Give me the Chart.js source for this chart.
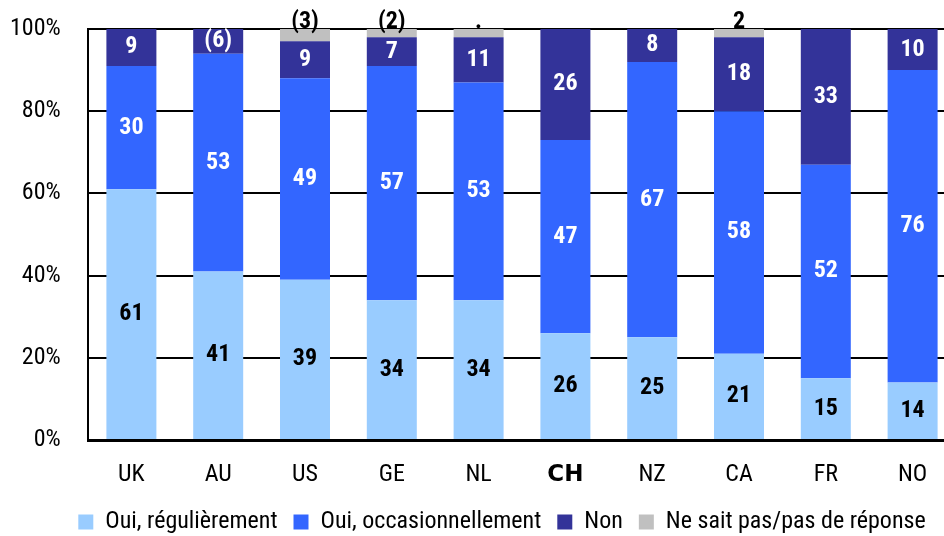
<!DOCTYPE html>
<html>
<head>
<meta charset="utf-8">
<style>
  html, body { margin: 0; padding: 0; background: #fff; overflow: hidden; }
  #wrap { width: 956px; height: 536px; position: relative; }
</style>
<script src="https://cdn.jsdelivr.net/npm/chart.js@4"></script>
</head>
<body>
<div id="wrap"><canvas id="chart"></canvas></div>
<script>
var categories = ['UK', 'AU', 'US', 'GE', 'NL', 'CH', 'NZ', 'CA', 'FR', 'NO'];
var seriesNames = ['Oui, régulièrement', 'Oui, occasionnellement', 'Non', 'Ne sait pas/pas de réponse'];
var regulier = [61, 41, 39, 34, 34, 26, 25, 21, 15, 14];
var occasion = [30, 53, 49, 57, 53, 47, 67, 59, 52, 76];
var non = [9, 6, 9, 7, 11, 27, 8, 18, 33, 10];
var nsp = [0, 0, 3, 2, 2, 0, 0, 2, 0, 0];
// printed labels as they appear in the picture
var regulierLabels = ['61', '41', '39', '34', '34', '26', '25', '21', '15', '14'];
var occasionLabels = ['30', '53', '49', '57', '53', '47', '67', '58', '52', '76'];
var nonLabels = ['9', '(6)', '9', '7', '11', '26', '8', '18', '33', '10'];
var nspLabels = ['', '', '(3)', '(2)', '.', '', '', '2', '', ''];
var yTicks = [0, 20, 40, 60, 80, 100];

var colors = ['#99CCFF', '#3366FF', '#333399', '#C0C0C0'];
var labelColors = ['#000', '#fff', '#fff', '#000'];
var allLabels = [regulierLabels, occasionLabels, nonLabels, nspLabels];
var FONT = '"Roboto Condensed", "Liberation Sans", Arial, sans-serif';

// value labels inside the segments, grey ones above the bar
var segmentLabels = {
  id: 'segmentLabels',
  afterDatasetsDraw: function(chart) {
    var ctx = chart.ctx;
    ctx.save();
    ctx.font = 'bold 24px ' + FONT;
    ctx.textAlign = 'center';
    ctx.textBaseline = 'middle';
    chart.data.datasets.forEach(function(ds, di) {
      var meta = chart.getDatasetMeta(di);
      meta.data.forEach(function(bar, i) {
        var txt = allLabels[di][i];
        if (!txt) return;
        ctx.fillStyle = labelColors[di];
        var y = di === 3 ? bar.y - 7 : (bar.y + bar.base) / 2;
        ctx.fillText(txt, bar.x, y);
      });
    });
    ctx.restore();
  }
};

new Chart(document.getElementById('chart'), {
  type: 'bar',
  data: {
    labels: categories,
    datasets: [
      { label: seriesNames[0], data: regulier, backgroundColor: colors[0] },
      { label: seriesNames[1], data: occasion, backgroundColor: colors[1] },
      { label: seriesNames[2], data: non, backgroundColor: colors[2] },
      { label: seriesNames[3], data: nsp, backgroundColor: colors[3] }
    ]
  },
  options: {
    responsive: true, maintainAspectRatio: false, animation: false,
    categoryPercentage: 1, barPercentage: 0.576,
    layout: { padding: { top: 29, left: 48, right: 0, bottom: -8 } },
    plugins: {
      tooltip: { enabled: false },
      legend: {
        position: 'bottom',
        labels: {
          boxWidth: 15, boxHeight: 15, padding: 16, color: '#000',
          font: { family: FONT, size: 24 }
        }
      }
    },
    scales: {
      x: {
        stacked: true,
        grid: { display: false, drawTicks: false },
        border: { color: '#000', width: 3 },
        ticks: {
          color: '#000', padding: 21,
          font: function(c) {
            return c.tick && c.tick.label === 'CH'
              ? { family: '"DejaVu Sans", sans-serif', size: 23, weight: 'bold' }
              : { family: FONT, size: 24 };
          }
        },
        afterFit: function(s) { s.height = 54; }
      },
      y: {
        stacked: true, min: 0, max: 100,
        afterBuildTicks: function(s) { s.ticks = yTicks.map(function(v) { return { value: v }; }); },
        grid: { color: '#000', lineWidth: 2, drawTicks: false },
        border: { color: '#000', width: 2 },
        ticks: {
          // mirrored + far alignment keeps the labels unclipped left of the axis
          mirror: true, crossAlign: 'far', padding: -78,
          color: '#000',
          font: { family: FONT, size: 24 },
          callback: function(v) { return v + '%'; }
        },
        afterFit: function(s) { s.width = 40; }
      }
    }
  },
  plugins: [segmentLabels]
});
</script>
</body>
</html>
